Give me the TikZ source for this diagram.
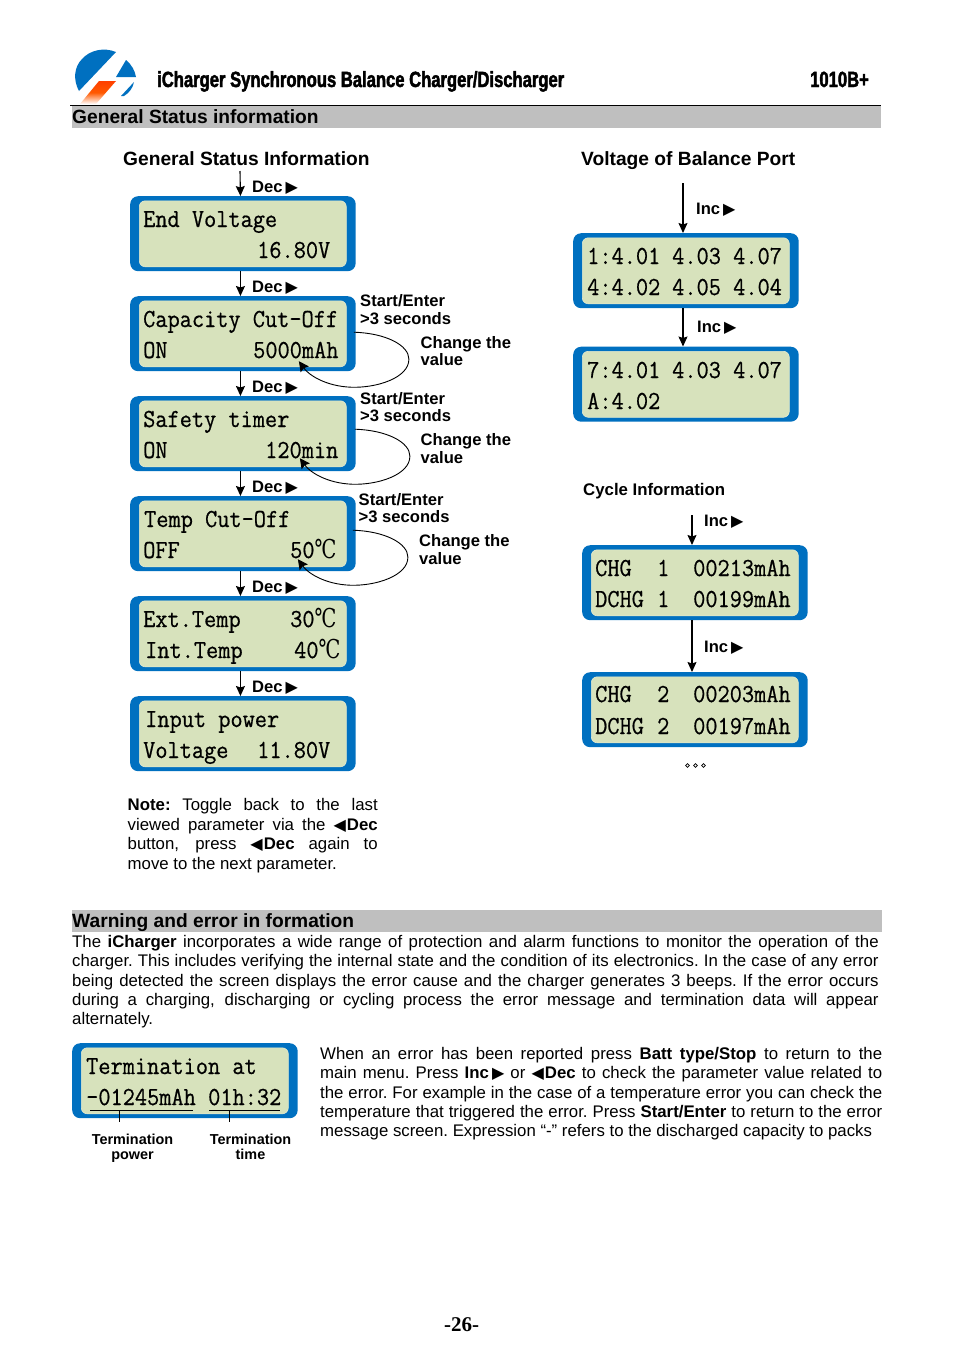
\documentclass[tikz,border=0pt]{standalone}
\usepackage{fontspec}
\usetikzlibrary{arrows.meta}
\setmainfont{Liberation Sans}
\setmonofont[FakeStretch=0.91,FakeBold=0.6]{Latin Modern Mono}
\newfontfamily\hdfont[FakeStretch=0.755,FakeBold=2]{Liberation Sans Bold}
\newfontfamily\degfont[FakeStretch=0.75]{DejaVu Serif}
\newfontfamily\pgfont{Liberation Serif}
\newfontfamily\dvfont{DejaVu Sans}
\definecolor{lcdblue}{HTML}{0070C0}
\definecolor{lcdgreen}{HTML}{D7E2BC}
\definecolor{band}{HTML}{BFBFBF}
\newcommand{\fs}[2]{\fontsize{#1}{#2}\selectfont}
\newcommand{\jl}[1]{\noindent\hbox to \hsize{\spaceskip=4.67pt plus 40pt minus 1.6pt\xspaceskip=\spaceskip #1}\par}
\newcommand{\degC}{{\degfont ℃}}
\newcommand{\rtri}{\kern3pt{\dvfont\fontsize{16}{16}\selectfont ▶}}
\newcommand{\ltri}{{\dvfont\fontsize{16}{16}\selectfont ◀}\kern1pt}
\tikzset{
  x=1pt,y=-1pt,
  outerbox/.style={anchor=north west,fill=lcdblue,draw=none,rounded corners=8pt,minimum width=225.5pt,minimum height=75pt,inner sep=0pt},
  innerbox/.style={anchor=north west,fill=lcdgreen,draw=lcdgreen!70!white,line width=.6pt,rounded corners=6pt,minimum width=207pt,minimum height=66pt,inner sep=0pt},
  lcdtext/.style={anchor=base west,inner sep=0pt,font=\ttfamily\fs{26}{26}},
  lbl/.style={anchor=base west,inner sep=0pt,font=\bfseries\fs{16.6}{18}},
  smalllbl/.style={anchor=base,inner sep=0pt,font=\bfseries\fs{14.4}{15},align=center},
  title/.style={anchor=base west,inner sep=0pt,font=\bfseries\fs{19.2}{22}},
  para/.style={anchor=base west,inner sep=0pt,font=\fs{16.8}{19.4}},
  arr/.style={draw=black,line width=1.1pt,-{Stealth[length=10pt,width=9pt,inset=1.5pt]}},
  loopline/.style={draw=black,line width=.9pt,-{Stealth[length=10pt,width=10pt,inset=1.5pt]}},
  thinline/.style={draw=black,line width=.9pt},
}
\newcommand{\lcd}[3]{%
  \node[outerbox] (#1) at (#2,#3) {};
  \node[innerbox] (#1i) at (#2+9,#3+4.5) {};
}
\newcommand{\tx}[3]{\node[lcdtext] at (#1,#2) {#3};}
\newcommand{\vloop}[3]{% node, dx, dy of start
  \draw[loopline] ([shift={(#2,#3)}]#1.east)
    .. controls ([shift={(#2+32,#3+1)}]#1.east) and ([shift={(#2+55,#3+13)}]#1.east) .. ([shift={(#2+55,#3+27)}]#1.east)
    .. controls ([shift={(#2+55,#3+46)}]#1.east) and ([shift={(#2+22,#3+56)}]#1.east) .. ([shift={(#2-3,#3+55)}]#1.east)
    .. controls ([shift={(#2-28,#3+54)}]#1.east) and ([shift={(#2-45,#3+43)}]#1.east) .. ([shift={(#2-55,#3+29)}]#1.east);
}
\begin{document}
\begin{tikzpicture}
\useasboundingbox (0,0) rectangle (954,1350);
\fill[white] (0,0) rectangle (954,1350);

% logo
\fill[lcdblue] (116,52) .. controls (104,47) and (90,50) .. (82,59) .. controls (74,67) and (73,80) .. (79,91) -- cycle;
\fill[lcdblue] (126,60) .. controls (132,65) and (135,71) .. (136,77) -- (116,77) -- cycle;
\fill[lcdblue] (134,82) .. controls (133,88) and (129,93) .. (124,96) -- (121,96) -- cycle;
\shade[top color=orange!50!red, bottom color=white, middle color=orange!70!red] (99,81) -- (116,81) -- (96,104) -- (80,104) -- cycle;
\node[anchor=base west,inner sep=0pt,font=\hdfont\fs{22}{24}] (head) at (157,87) {iCharger Synchronous Balance Charger/Discharger};
\node[anchor=base west,inner sep=0pt,font=\hdfont\fs{22}{24}] (model) at (810,87) {1010B+};
\draw[black,line width=1pt] (70,105.5) -- (881,105.5);

% bands
\fill[band] (72,106) rectangle (881,128);
\fill[band] (72,910) rectangle (882,932);
\node[title] (h1) at (72,123) {General Status information};
\node[title] (h2) at (72,927) {Warning and error in formation};

% titles
\node[title] (t1) at (123,165) {General Status Information};
\node[title] (t2) at (581,165) {Voltage of Balance Port};
\node[title,font=\bfseries\fs{16.8}{18}] (t3) at (583,495) {Cycle Information};

% left column
\lcd{a}{130}{196}
\lcd{b}{130}{296}
\lcd{c}{130}{396}
\lcd{d}{130}{496}
\lcd{e}{130}{596}
\lcd{f}{130}{696}
\tx{143}{227}{End Voltage}
\tx{257}{258}{16.80V}
\tx{143}{327}{Capacity Cut-Off}
\tx{143}{358}{ON}
\tx{253}{358}{5000mAh}
\tx{143}{427}{Safety timer}
\tx{143}{458}{ON}
\tx{265}{458}{120min}
\tx{144}{527}{Temp Cut-Off}
\tx{143}{558}{OFF}
\tx{290}{558}{50\degC}
\tx{143}{627}{Ext.Temp}
\tx{290}{627}{30\degC}
\tx{145}{658}{Int.Temp}
\tx{294}{658}{40\degC}
\tx{145}{727}{Input power}
\tx{143}{758}{Voltage}
\tx{257}{758}{11.80V}

\coordinate (start) at (240,171);
\draw[arr] (start) -- ([xshift=-2.5pt]a.north);
\draw[arr] ([xshift=-2.5pt]a.south) -- ([xshift=-2.5pt]b.north);
\draw[arr] ([xshift=-2.5pt]b.south) -- ([xshift=-2.5pt]c.north);
\draw[arr] ([xshift=-2.5pt]c.south) -- ([xshift=-2.5pt]d.north);
\draw[arr] ([xshift=-2.5pt]d.south) -- ([xshift=-2.5pt]e.north);
\draw[arr] ([xshift=-2.5pt]e.south) -- ([xshift=-2.5pt]f.north);
\foreach \yy/\nn in {192/d1,292/d2,392/d3,492/d4,592/d5,692/d6}
  \node[lbl] (\nn) at (252,\yy) {Dec\rtri};

\vloop{b}{-2}{-1.5}
\vloop{c}{-1}{-4.5}
\vloop{d}{-3}{-3.5}

\node[lbl] (s1) at (360,306) {Start/Enter};
\node[lbl] (s2) at (360,324) {>3 seconds};
\node[lbl] (s3) at (420.5,348) {Change the};
\node[lbl] (s4) at (420.5,365) {value};
\node[lbl] (s5) at (360,404) {Start/Enter};
\node[lbl] (s6) at (360,421) {>3 seconds};
\node[lbl] (s7) at (420.5,445) {Change the};
\node[lbl] (s8) at (420.5,463) {value};
\node[lbl] (s9) at (358.5,505) {Start/Enter};
\node[lbl] (s10) at (358.5,522) {>3 seconds};
\node[lbl] (s11) at (419,546) {Change the};
\node[lbl] (s12) at (419,564) {value};

% note
\node[para,anchor=north west,text width=250pt] (note) at (127.5,798.5) {%
\jl{\textbf{Note:} Toggle back to the last}%
\jl{viewed parameter via the \textbf{\ltri Dec}}%
\jl{button, press \textbf{\ltri Dec} again to}%
\jl{move to the next parameter.\hfil}};

% right column
\lcd{g}{573}{233}
\lcd{h}{573}{346.5}
\tx{587}{264}{1:4.01}
\tx{672}{264}{4.03}
\tx{733}{264}{4.07}
\tx{587}{295}{4:4.02}
\tx{672}{295}{4.05}
\tx{733}{295}{4.04}
\tx{587}{378}{7:4.01}
\tx{672}{378}{4.03}
\tx{733}{378}{4.07}
\tx{587}{409}{A:4.02}
\coordinate (rstart) at (683,183);
\draw[arr] (rstart) -- (rstart |- g.north);
\draw[arr] (rstart |- g.south) -- (rstart |- h.north);
\node[lbl] (i1) at (696,214) {Inc\rtri};
\node[lbl] (i2) at (697,332) {Inc\rtri};

\lcd{k}{582}{545}
\lcd{m}{582}{672}
\tx{595}{576}{CHG}
\tx{657}{576}{1}
\tx{693}{576}{00213mAh}
\tx{595}{607}{DCHG}
\tx{657}{607}{1}
\tx{693}{607}{00199mAh}
\tx{595}{702}{CHG}
\tx{657}{702}{2}
\tx{693}{702}{00203mAh}
\tx{595}{734}{DCHG}
\tx{657}{734}{2}
\tx{693}{734}{00197mAh}
\coordinate (cstart) at (692,515);
\draw[arr] (cstart) -- (cstart |- k.north);
\draw[arr] (cstart |- k.south) -- (cstart |- m.north);
\node[lbl] (i3) at (704,526) {Inc\rtri};
\node[lbl] (i4) at (704,652) {Inc\rtri};
\foreach \xx in {687.5,695.5,703.5}
  \draw[black,line width=.8pt] (\xx,765.5) circle (1.9pt);

% warning paragraph
\node[para,anchor=north west,text width=806.5pt] (warn) at (72,935) {%
\jl{The \textbf{iCharger} incorporates a wide range of protection and alarm functions to monitor the operation of the}%
\jl{charger. This includes verifying the internal state and the condition of its electronics. In the case of any error}%
\jl{being detected the screen displays the error cause and the charger generates 3 beeps. If the error occurs}%
\jl{during a charging, discharging or cycling process the error message and termination data will appear}%
\jl{alternately.\hfil}};

% termination
\lcd{n}{72}{1043}
\tx{86}{1074}{Termination at}
\tx{86}{1105}{-01245mAh}
\tx{208}{1105}{01h:32}
\coordinate (u1a) at (90,1110);
\coordinate (u1b) at (193,1110);
\coordinate (u2a) at (209,1110);
\coordinate (u2b) at (280,1110);
\coordinate (v1a) at (119,1110);
\coordinate (v1b) at (119,1122);
\coordinate (v2a) at (229,1110);
\coordinate (v2b) at (229,1122);
\draw[thinline] (u1a) -- (u1b);
\draw[thinline] (u2a) -- (u2b);
\draw[thinline] (v1a) -- (v1b);
\draw[thinline] (v2a) -- (v2b);
\node[smalllbl,anchor=north] (tp) at (132.5,1134) {Termination\\power};
\node[smalllbl,anchor=north] (tt) at (250.5,1134) {Termination\\time};

\node[para,anchor=north west,text width=562pt] (rp) at (320,1047) {%
\jl{When an error has been reported press \textbf{Batt type/Stop} to return to the}%
\jl{main menu. Press \textbf{Inc\rtri} or \textbf{\ltri Dec} to check the parameter value related to}%
\jl{the error. For example in the case of a temperature error you can check the}%
\jl{temperature that triggered the error. Press \textbf{Start/Enter} to return to the error}%
\jl{message screen. Expression “-” refers to the discharged capacity to packs\hfil}};

\node[anchor=base,inner sep=0pt,font=\pgfont\bfseries\fs{21}{22}] (pg) at (461.5,1331) {-26-};
\end{tikzpicture}
\end{document}
